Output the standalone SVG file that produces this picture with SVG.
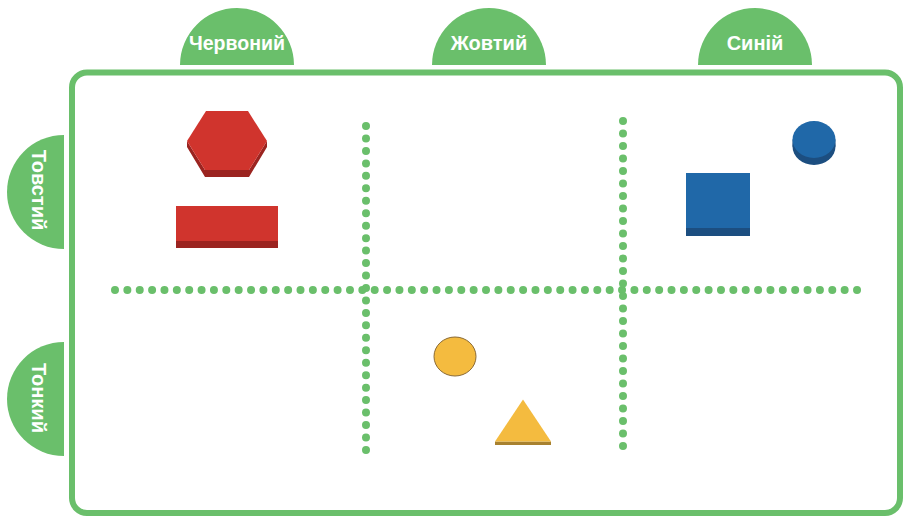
<svg xmlns="http://www.w3.org/2000/svg" width="905" height="517" viewBox="0 0 905 517">
<style>
.tab{fill:#6abf6b}
.lbl{font-family:"Liberation Sans",Arial,sans-serif;font-weight:bold;font-size:20px;fill:#fff;text-anchor:middle}
.dots{fill:none;stroke:#6abf6b;stroke-width:8;stroke-linecap:round}
.red{fill:#d0342d}
.redd{fill:#9b2420}
.blue{fill:#2068a8}
.blued{fill:#1c4e80}
.yel{fill:#f4bb3f}
.yeld{fill:#a8812f}
</style>
<rect width="905" height="517" fill="#fff"/>
<g id="frame"><rect x="72" y="72.5" width="828" height="440.5" rx="15" fill="#fff" stroke="#6abf6b" stroke-width="6"/></g>
<g id="tab-red"><path class="tab" d="M180,65 A57,57 0 0 1 294,65 Z"/><text class="lbl" x="237" y="50" textLength="96" lengthAdjust="spacingAndGlyphs">Червоний</text></g>
<g id="tab-yellow"><path class="tab" d="M432,65 A57,57 0 0 1 546,65 Z"/><text class="lbl" x="489" y="50">Жовтий</text></g>
<g id="tab-blue"><path class="tab" d="M698,65 A57,57 0 0 1 812,65 Z"/><text class="lbl" x="755" y="50">Синій</text></g>
<g id="tab-thick"><path class="tab" d="M64,135 A57,57 0 0 0 64,249 Z"/><text class="lbl" transform="translate(32,190) rotate(90)">Товстий</text></g>
<g id="tab-thin"><path class="tab" d="M64,342 A57,57 0 0 0 64,456 Z"/><text class="lbl" transform="translate(32,398) rotate(90)">Тонкий</text></g>
<g id="connectors">
<line class="dots" x1="115" y1="290" x2="858" y2="290" stroke-dasharray="0 12.367"/>
<line class="dots" x1="366" y1="126" x2="366" y2="451" stroke-dasharray="0 12.46"/>
<line class="dots" x1="623" y1="121" x2="623" y2="447" stroke-dasharray="0 12.5"/>
</g>
<g id="red-hexagon">
<polygon class="redd" points="187,141 205,170 249,170 267,141 267,147 249,177 205,177 187,147"/>
<polygon class="red" points="206,111 248,111 267,141 249,170 205,170 187,141"/>
</g>
<g id="red-rectangle">
<rect class="redd" x="176" y="206" width="102" height="42"/>
<rect class="red" x="176" y="206" width="102" height="35"/>
</g>
<g id="blue-square">
<rect class="blued" x="686" y="173" width="64" height="63"/>
<rect class="blue" x="686" y="173" width="64" height="55"/>
</g>
<g id="blue-circle">
<ellipse class="blued" cx="814" cy="146.5" rx="21.5" ry="18.5"/>
<rect class="blued" x="792.5" y="139.5" width="43" height="7"/>
<ellipse class="blue" cx="814" cy="139.5" rx="21.5" ry="18.5"/>
</g>
<g id="yellow-circle">
<ellipse class="yel" cx="455" cy="356.5" rx="21" ry="19.5" stroke="#8a6a35" stroke-width="1"/>
</g>
<g id="yellow-triangle">
<polygon class="yeld" points="495,441.5 551,441.5 551,445 495,445"/>
<polygon class="yel" points="523,399.5 551,441.5 495,441.5"/>
</g>
</svg>
